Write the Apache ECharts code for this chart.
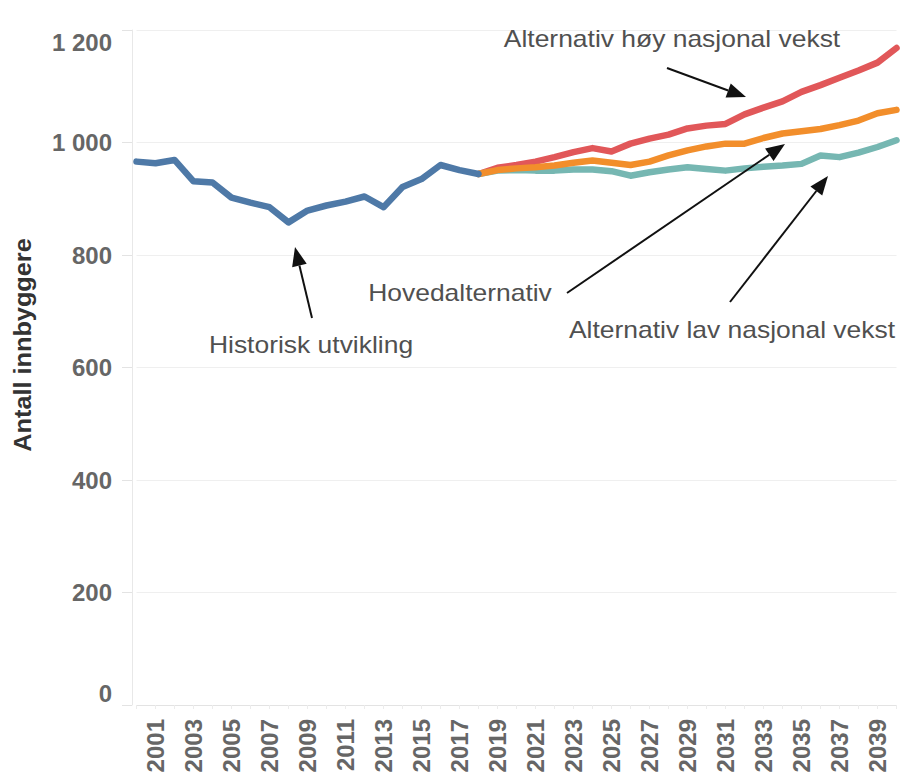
<!DOCTYPE html>
<html>
<head>
<meta charset="utf-8">
<title>Antall innbyggere</title>
<script src="https://cdn.jsdelivr.net/npm/echarts@6/dist/echarts.min.js"></script>
<style>
    html, body { margin: 0; padding: 0; background: #fff; overflow: hidden; }
    #chart { width: 901px; height: 776px; }
</style>
</head>
<body>
<div id="chart"></div>
<script>
var years = ['2000', '2001', '2002', '2003', '2004', '2005', '2006', '2007', '2008', '2009',
    '2010', '2011', '2012', '2013', '2014', '2015', '2016', '2017', '2018', '2019',
    '2020', '2021', '2022', '2023', '2024', '2025', '2026', '2027', '2028', '2029',
    '2030', '2031', '2032', '2033', '2034', '2035', '2036', '2037', '2038', '2039', '2040'];

// 2000-2018
var historisk = [966, 963, 969, 931, 929, 902, 893, 885, 858, 879,
    888, 895, 904, 885, 921, 935, 960, 951, 944];

// 2018-2040
var hoy = [944, 955, 960, 966, 974, 983, 990, 984, 998, 1007, 1014, 1025,
    1030, 1033, 1050, 1062, 1073, 1090, 1102, 1115, 1128, 1142, 1168];
var hoved = [944, 951, 954, 956, 959, 964, 968, 964, 960, 966, 977, 986,
    993, 998, 998, 1008, 1016, 1020, 1024, 1031, 1039, 1052, 1058];
var lav = [944, 950, 951, 950, 950, 952, 952, 949, 941, 947, 952, 956,
    953, 950, 954, 957, 959, 962, 977, 974, 982, 992, 1004];

var yMin = 0, yMax = 1200, yStep = 200;

var fontFam = "'Liberation Sans', Arial, sans-serif";

// put a short list onto the full year axis, nulls elsewhere
function onYears(values, startYear) {
    var start = years.indexOf(startYear);
    return years.map(function (y, i) {
        var k = i - start;
        return (k >= 0 && k < values.length) ? values[k] : null;
    });
}

function lineSeries(name, data, color) {
    return {
        name: name,
        type: 'line',
        data: data,
        symbol: 'none',
        connectNulls: false,
        silent: true,
        lineStyle: { width: 6.5, color: color, join: 'round', cap: 'round' }
    };
}

function note(text, x, y) {
    return {
        type: 'text',
        x: x, y: y,
        z: 100,
        scaleX: 1.15,
        style: {
            text: text, x: 0, y: 0,
            fontSize: 23, fontFamily: fontFam,
            fill: '#505050', align: 'center', verticalAlign: 'middle'
        }
    };
}

function arrow(x1, y1, x2, y2) {
    var dx = x2 - x1, dy = y2 - y1;
    var len = Math.sqrt(dx * dx + dy * dy);
    var ux = dx / len, uy = dy / len;
    var hl = 19, hw = 7.5;
    var bx = x2 - ux * hl, by = y2 - uy * hl;
    return [
        {
            type: 'line',
            z: 100,
            shape: { x1: x1, y1: y1, x2: bx, y2: by },
            style: { stroke: '#111', lineWidth: 2 }
        },
        {
            type: 'polygon',
            z: 100,
            shape: { points: [[x2, y2], [bx - uy * hw, by + ux * hw], [bx + uy * hw, by - ux * hw]] },
            style: { fill: '#111' }
        }
    ];
}

var chart = echarts.init(document.getElementById('chart'), null, { renderer: 'svg' });

var graphics = [
    {
        type: 'text',
        x: 23, y: 345,
        z: 100,
        rotation: Math.PI / 2,
        scaleX: 1.1,
        style: {
            text: 'Antall innbyggere', x: 0, y: 0,
            fontSize: 23, fontWeight: 'bold', fontFamily: fontFam,
            fill: '#333', align: 'center', verticalAlign: 'middle'
        }
    },
    note('Alternativ høy nasjonal vekst', 672, 39),
    note('Hovedalternativ', 460, 293),
    note('Alternativ lav nasjonal vekst', 732, 330),
    note('Historisk utvikling', 311, 345)
]
    .concat(arrow(667, 68, 746, 97))
    .concat(arrow(567, 293, 785, 144))
    .concat(arrow(730, 302, 828, 176))
    .concat(arrow(312, 318, 295, 247));

var option = {
    animation: false,
    backgroundColor: '#fff',
    grid: { left: 136.5, right: 4.5, top: 30, bottom: 71, containLabel: false },
    xAxis: {
        type: 'category',
        data: years,
        boundaryGap: false,
        axisLine: { lineStyle: { color: '#e3e3e3', width: 1 } },
        axisTick: { show: true, interval: 0, length: 4, lineStyle: { color: '#ececec' } },
        axisLabel: {
            interval: function (index) { return index % 2 === 1; },
            rotate: 90,
            margin: 14,
            fontSize: 24,
            fontWeight: 'bold',
            fontFamily: fontFam,
            color: '#666'
        },
        splitLine: { show: false }
    },
    yAxis: {
        type: 'value',
        min: yMin,
        max: yMax,
        interval: yStep,
        offset: 4.5,
        axisLine: { show: true, lineStyle: { color: '#e8e8e8', width: 1 } },
        axisTick: { show: true, length: 10, lineStyle: { color: '#e3e3e3' } },
        axisLabel: {
            margin: 20,
            fontSize: 24,
            fontWeight: 'bold',
            fontFamily: fontFam,
            color: '#666',
            verticalAlignMinLabel: 'bottom',
            verticalAlignMaxLabel: 'top',
            formatter: function (v) {
                return String(v).replace(/\B(?=(\d{3})+(?!\d))/g, ' ');
            }
        },
        splitLine: { show: true, lineStyle: { color: '#efefef', width: 1 } }
    },
    series: [
        lineSeries('Alternativ høy nasjonal vekst', onYears(hoy, '2018'), '#e15759'),
        lineSeries('Alternativ lav nasjonal vekst', onYears(lav, '2018'), '#76b7b2'),
        lineSeries('Hovedalternativ', onYears(hoved, '2018'), '#f28e2b'),
        lineSeries('Historisk utvikling', onYears(historisk, '2000'), '#4e79a7')
    ],
    graphic: graphics
};

option && chart.setOption(option);
window.addEventListener('resize', chart.resize);
</script>
</body>
</html>
